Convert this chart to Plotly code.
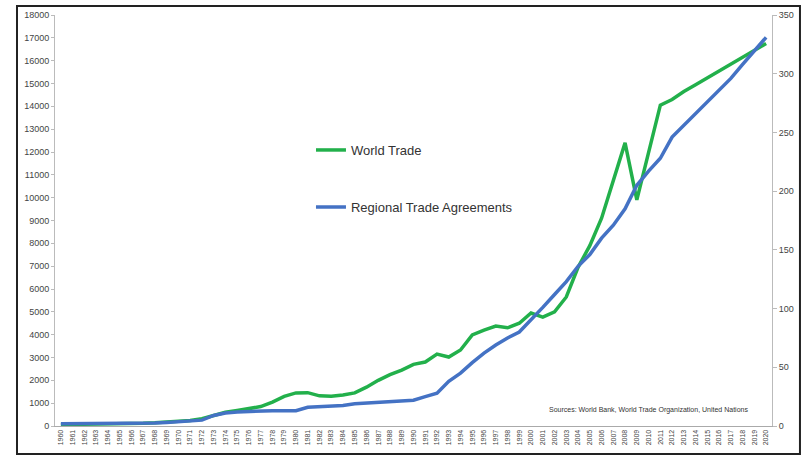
import plotly.graph_objects as go

years = [str(y) for y in range(1960, 2021)]

world_trade = [60, 65, 70, 80, 90, 100, 110, 120, 140, 170,
               200, 240, 320, 480, 600, 680, 750, 850, 1050, 1300,
               1450, 1460, 1320, 1300, 1360, 1450, 1700, 2000, 2250, 2450,
               2700, 2800, 3150, 3020, 3330, 3990, 4200, 4380, 4300, 4500,
               4950, 4770, 5000, 5650, 6950, 7900, 9100, 10750, 12400, 9900,
               12000, 14050, 14300, 14650, 14950, 15250, 15550, 15850, 16150, 16450,
               16750]

rta = [2, 2, 2, 2, 2, 2, 2, 2, 2.5, 3,
       3.5, 4, 5, 9, 11, 12, 12.5, 13, 13, 13,
       13, 16, 16.5, 17, 17.5, 19, 19.5, 20, 21, 21.5,
       22, 25, 28, 38, 45, 54, 62, 69, 75, 80,
       90, 101, 112, 123, 136, 146, 160, 171, 185, 205,
       217, 228, 246, 256, 267, 276, 286, 296, 308, 319,
       331]

left_ticks = list(range(0, 18001, 1000))
right_ticks = list(range(0, 351, 50))

FONT = "Liberation Sans, Arial, sans-serif"

fig = go.Figure()
fig.add_trace(go.Scatter(x=years, y=world_trade, name="World Trade", mode="lines",
                         line=dict(color="#22B04B", width=3.5), legend="legend", showlegend=True))
fig.add_trace(go.Scatter(x=years, y=rta, name="Regional Trade Agreements", mode="lines",
                         line=dict(color="#4472C4", width=3.5), yaxis="y2", legend="legend2", showlegend=True))

tickfont = dict(family=FONT, size=9, color="#444")

fig.update_layout(
    width=803, height=459,
    showlegend=True,
    margin=dict(l=55, r=31, t=15, b=33, autoexpand=False),
    paper_bgcolor="white", plot_bgcolor="white",
    xaxis=dict(type="category", tickangle=-90, tickfont=dict(family=FONT, size=7, color="#444"),
               showline=True, linecolor="#aaa", linewidth=1, ticks="", showgrid=False,
               range=[-0.5, 60.5]),
    yaxis=dict(range=[0, 18000], tickvals=left_ticks, ticktext=[str(v) for v in left_ticks],
               tickfont=tickfont, showline=True, linecolor="#bbb", linewidth=1,
               ticks="outside", ticklen=3, tickcolor="#bbb", showgrid=False, zeroline=False),
    yaxis2=dict(range=[0, 350], tickvals=right_ticks, ticktext=[str(v) for v in right_ticks],
                overlaying="y", side="right", tickfont=tickfont, showline=True, linecolor="#bbb",
                linewidth=1, ticks="outside", ticklen=4, tickcolor="#bbb", showgrid=False, zeroline=False),
    legend=dict(x=0.357, y=0.708, xanchor="left", yanchor="top", bgcolor="rgba(0,0,0,0)",
                font=dict(family=FONT, size=13, color="#333")),
    legend2=dict(x=0.357, y=0.569, xanchor="left", yanchor="top", bgcolor="rgba(0,0,0,0)",
                 font=dict(family=FONT, size=13, color="#333")),
    shapes=[dict(type="rect", xref="paper", yref="paper", x0=-0.053, x1=1.039, y0=-0.068, y1=1.022,
                 line=dict(color="#222", width=2), fillcolor="rgba(0,0,0,0)", layer="below")],
    annotations=[dict(text="Sources: World Bank, World Trade Organization, United Nations",
                      xref="paper", yref="paper", x=0.97, y=0.04, xanchor="right", yanchor="middle",
                      showarrow=False, font=dict(family=FONT, size=7, color="#333"))],
)

fig.write_html("out.html", config={"displayModeBar": False},
               post_script="document.body.style.margin='0px';document.body.style.overflow='hidden';")
